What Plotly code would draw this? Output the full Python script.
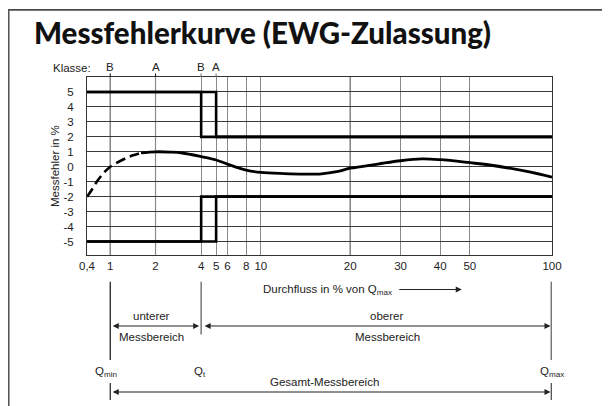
import numpy as np
import plotly.graph_objects as go

# ---------------- data ----------------
flow_ticks = [0.4, 1, 2, 4, 5, 6, 8, 10, 20, 30, 40, 50, 100]
flow_tick_labels = ["0,4", "1", "2", "4", "5", "6", "8", "10", "20", "30", "40", "50", "100"]
error_ticks = [5, 4, 3, 2, 1, 0, -1, -2, -3, -4, -5]
error_tick_labels = ["5", "4", "3", "2", "1", "0", "-1", "-2", "-3", "-4", "-5"]

curve_dashed_flow = [0.4, 0.5, 0.6, 0.8, 1.0, 1.2, 1.4, 1.6]
curve_dashed_error = [-2.0, -1.45, -0.95, -0.35, 0.0, 0.45, 0.75, 0.93]
curve_solid_flow = [1.6, 2, 2.5, 3, 4, 5, 6, 8, 10, 12, 14, 16, 18, 20, 25, 30, 35, 40, 50, 60, 80, 100]
curve_solid_error = [0.93, 1.0, 0.98, 0.92, 0.68, 0.45, 0.18, -0.22, -0.38, -0.46, -0.49, -0.47, -0.33,
                     -0.1, 0.18, 0.4, 0.52, 0.47, 0.27, 0.1, -0.3, -0.69]

class_b_upper_flow = [0.4, 4, 4, 100]
class_b_upper_error = [5, 5, 2, 2]
class_a_upper_flow = [0.4, 5, 5, 100]
class_a_upper_error = [5, 5, 2, 2]
class_b_lower_flow = [0.4, 4, 4, 100]
class_b_lower_error = [-5, -5, -2, -2]
class_a_lower_flow = [0.4, 5, 5, 100]
class_a_lower_error = [-5, -5, -2, -2]

klasse_flow = [1, 2, 4, 5]
klasse_labels = ["B", "A", "B", "A"]

q_min_flow = 1
q_t_flow = 4
q_max_flow = 100

# ---------------- layout helpers (positions) ----------------
OFF = 8  # page body margin of the browser
W, H = 610 - OFF, 406 - OFF
ML, MT, MB = 87 - OFF, 77 - OFF, 151
MR = W - (552.3 - OFF)
PW = W - ML - MR
PH = H - MT - MB
TICK_POS = [86.7, 110, 155.3, 201, 216, 227.3, 246, 260.7, 350.3, 400.7, 440.3, 470, 552.3]


def xpos(v):
    return np.interp(np.log10(v), np.log10(flow_ticks), TICK_POS) - OFF


def px2x(px):
    return (px - OFF - ML) / PW


def py2y(py):
    return (MT + PH - (py - OFF)) / PH


FONT = "Liberation Sans, Arial, Helvetica, sans-serif"
TXT = "#222222"
FS = 11.5

fig = go.Figure()

line_style = dict(color="black", width=2.6)
for fx, fy in [(class_b_upper_flow, class_b_upper_error), (class_a_upper_flow, class_a_upper_error),
               (class_b_lower_flow, class_b_lower_error), (class_a_lower_flow, class_a_lower_error)]:
    fig.add_trace(go.Scatter(x=xpos(fx), y=fy, mode="lines", line=line_style,
                             hoverinfo="skip", showlegend=False))

fig.add_trace(go.Scatter(x=xpos(curve_dashed_flow), y=curve_dashed_error, mode="lines",
                         line=dict(color="black", width=2.6, dash="10px,5px", shape="spline"),
                         showlegend=False))
fig.add_trace(go.Scatter(x=xpos(curve_solid_flow), y=curve_solid_error, mode="lines",
                         line=dict(color="black", width=2.8, shape="spline", smoothing=1.0),
                         showlegend=False))

shapes = []
for v in [1, 2, 20]:
    shapes.append(dict(type="line", xref="x", yref="paper", x0=xpos(v), x1=xpos(v), y0=0, y1=1,
                       line=dict(color="#1a1a1a", width=1.1), layer="below"))
for v, col in zip(klasse_flow, ["#1a1a1a", "#1a1a1a", "#777777", "#777777"]):
    shapes.append(dict(type="line", xref="x", yref="paper", x0=xpos(v), x1=xpos(v), y0=1,
                       y1=py2y(73.5), line=dict(color=col, width=1.1)))

shapes.append(dict(type="line", xref="x", yref="paper", x0=xpos(q_min_flow), x1=xpos(q_min_flow),
                   y0=py2y(281.7), y1=py2y(360), line=dict(color="#222222", width=1.3)))
shapes.append(dict(type="line", xref="x", yref="paper", x0=xpos(q_t_flow), x1=xpos(q_t_flow),
                   y0=py2y(281.7), y1=py2y(334.5), line=dict(color="#777777", width=1.5)))
shapes.append(dict(type="line", xref="x", yref="paper", x0=xpos(q_max_flow) - 0.7, x1=xpos(q_max_flow) - 0.7,
                   y0=py2y(281.7), y1=py2y(360), line=dict(color="#777777", width=1.5)))
shapes.append(dict(type="line", xref="x", yref="paper", x0=xpos(q_min_flow), x1=xpos(q_min_flow),
                   y0=py2y(383), y1=py2y(400), line=dict(color="#222222", width=1.2)))
shapes.append(dict(type="line", xref="x", yref="paper", x0=xpos(q_max_flow) - 0.7, x1=xpos(q_max_flow) - 0.7,
                   y0=py2y(383), y1=py2y(400), line=dict(color="#444444", width=1.2)))
# outer frame (top and left)
shapes.append(dict(type="line", xref="paper", yref="paper", x0=px2x(7.5), x1=px2x(615),
                   y0=py2y(9.8), y1=py2y(9.8), line=dict(color="#4a4a4a", width=1.8)))
shapes.append(dict(type="line", xref="paper", yref="paper", x0=px2x(8.5), x1=px2x(8.5),
                   y0=py2y(9), y1=py2y(410), line=dict(color="#555555", width=2)))

ann = []


def text_ann(txt, x, y, xref="paper", size=FS, **kw):
    d = dict(text=txt, xref=xref, yref="paper", x=x, y=y, xanchor="center", yanchor="middle",
             showarrow=False, font=dict(family=FONT, size=size, color=TXT))
    d.update(kw)
    return d


ann.append(dict(text="Messfehlerkurve (EWG-Zulassung)", xref="paper", yref="paper",
                x=px2x(32), y=py2y(32.5), xanchor="left", yanchor="middle", showarrow=False,
                font=dict(family="Lato, Roboto, sans-serif", size=29.5, color="#111111", weight=900)))
ann.append(text_ann("Klasse:", px2x(71.7), py2y(67.7)))
for v, lab in zip(klasse_flow, klasse_labels):
    ann.append(text_ann(lab, xpos(v), py2y(67.5), xref="x"))
ann.append(text_ann("Messfehler in %", px2x(55), 0.5, textangle=-90))
ann.append(text_ann("Durchfluss in % von Q<sub>max</sub>", px2x(394), py2y(290), xanchor="right"))
ann.append(dict(text="", xref="paper", yref="paper", x=px2x(462), y=py2y(289.5), ax=-64, ay=0,
                showarrow=True, arrowhead=2, arrowsize=1, arrowwidth=1.2, arrowcolor="#222222", standoff=0))


def arrow(x_from, x_to, y):
    return dict(text="", xref="x", yref="paper", x=x_to, y=y, axref="x", ax=x_from, ayref="pixel", ay=0,
                showarrow=True, arrowhead=2, startarrowhead=2, arrowside="end+start", arrowsize=1,
                startarrowsize=1, arrowwidth=1.2, arrowcolor="#222222", standoff=0, startstandoff=0)


ann.append(arrow(xpos(q_min_flow) + 1, xpos(q_t_flow) - 2, py2y(326)))
ann.append(arrow(xpos(q_t_flow) + 2, xpos(q_max_flow) - 1.5, py2y(326)))
ann.append(arrow(xpos(q_min_flow) + 1, xpos(q_max_flow) - 1.5, py2y(392)))

for txt, px, py in [("unterer", 152, 316), ("Messbereich", 152, 337), ("oberer", 387, 316),
                    ("Messbereich", 387.5, 337), ("Gesamt-Messbereich", 325, 381.5)]:
    ann.append(text_ann(txt, px2x(px), py2y(py)))
for txt, v, dx in [("Q<sub>min</sub>", q_min_flow, -4), ("Q<sub>t</sub>", q_t_flow, -1),
                   ("Q<sub>max</sub>", q_max_flow, 0)]:
    ann.append(text_ann(txt, xpos(v) + dx, py2y(372), xref="x"))

fig.update_layout(
    width=W, height=H, margin=dict(l=ML, r=MR, t=MT, b=MB, pad=0),
    paper_bgcolor="white", plot_bgcolor="white", showlegend=False,
    shapes=shapes, annotations=ann,
    font=dict(family=FONT, size=FS, color=TXT),
    xaxis=dict(range=[xpos(0.4), xpos(100)], tickmode="array", tickvals=list(xpos(flow_ticks)),
               ticktext=flow_tick_labels, showgrid=True, gridcolor="#8a8a8a", gridwidth=1,
               zeroline=False, showline=True, mirror=True, linecolor="#333333", linewidth=1,
               ticks="", ticklabelstandoff=0, tickfont=dict(family=FONT, size=FS, color=TXT),
               fixedrange=True),
    yaxis=dict(range=[-5.9, 6.0], tickmode="array", tickvals=error_ticks, ticktext=error_tick_labels,
               showgrid=True, gridcolor="#3a3a3a", gridwidth=1, zeroline=False, showline=True,
               mirror=True, linecolor="#333333", linewidth=1, ticks="", ticklabelstandoff=10,
               tickfont=dict(family=FONT, size=FS, color=TXT), fixedrange=True),
)

fig.write_html("out.html")
